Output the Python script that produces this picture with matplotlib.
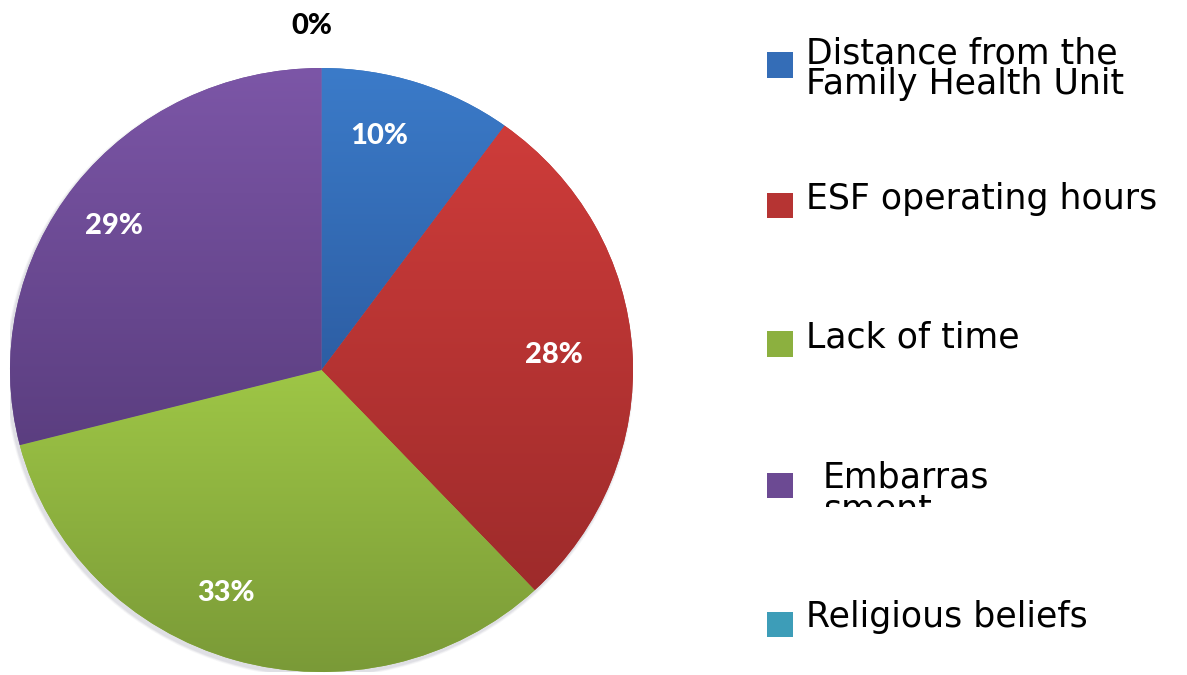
import numpy as np
import matplotlib
matplotlib.use("Agg")
import matplotlib.pyplot as plt
from matplotlib.patches import Rectangle, Ellipse
from matplotlib.colors import to_rgb

# ---------------- data ----------------
categories = ["Distance from the Family Health Unit", "ESF operating hours",
              "Lack of time", "Embarrassment", "Religious beliefs"]
legend_labels = ["Distance from the\nFamily Health Unit", "ESF operating hours",
                 "Lack of time", "Embarras\nsment", "Religious beliefs"]
values = [10, 28, 33, 29, 0]

# gradient colours (top, bottom) per slice
top_colors = ["#3B7BC9", "#CE3C3A", "#9EC646", "#7C56A7", "#4BB0CB"]
bottom_colors = ["#2D5EA4", "#9E2B2B", "#7A9A37", "#5B3E80", "#2E8AA5"]
label_colors = ["white", "white", "white", "white", "black"]

# label positions in pie-normalised coordinates (layout)
label_pos = [(0.186, 0.776), (0.745, 0.050), (-0.307, -0.737),
             (-0.665, 0.478), (-0.030, 1.139)]

W, H = 1187, 675
fig = plt.figure(figsize=(W / 100, H / 100), dpi=100)
fig.patch.set_facecolor("white")

# pie axes: center (321.5, 370) px from top-left, rx 311.5, ry 302
cx, cy, rx, ry = 321.5, 370.0, 311.5, 302.0
ax = fig.add_axes([(cx - rx) / W, (H - cy - ry) / H, 2 * rx / W, 2 * ry / H])

# soft shadow
for i, a in enumerate([0.04, 0.04, 0.05, 0.06]):
    grow = 0.018 - i * 0.004
    ax.add_patch(Ellipse((-0.006, -0.010), 2 + grow, 2 + grow * 1.03,
                         facecolor="#505070", edgecolor="none", alpha=a, zorder=0))

mids = [tuple((np.array(to_rgb(t)) + np.array(to_rgb(b))) / 2)
        for t, b in zip(top_colors, bottom_colors)]
wedges, _t, autotexts = ax.pie(values, colors=mids, startangle=90, counterclock=False,
                               autopct="%1.0f%%", wedgeprops=dict(linewidth=0),
                               textprops=dict(fontfamily="Lato", fontweight="black",
                                              fontsize=21))

for w, v, ct, cb in zip(wedges, values, top_colors, bottom_colors):
    w.set_zorder(1)
    if v == 0:
        continue
    ext = w.get_path().get_extents()
    n = 256
    t = np.linspace(0, 1, n)[:, None]
    grad = (1 - t) * np.array(to_rgb(cb)) + t * np.array(to_rgb(ct))
    grad = grad[:, None, :]
    im = ax.imshow(grad, extent=[ext.x0, ext.x1, ext.y0, ext.y1], origin="lower",
                   interpolation="bilinear", zorder=2, aspect="auto")
    im.set_clip_path(w)

for txt, pos, col in zip(autotexts, label_pos, label_colors):
    txt.set_position(pos)
    txt.set_color(col)
    txt.set_ha("center")
    txt.set_va("center")
    txt.set_zorder(5)
    txt.set_clip_on(False)

ax.set_aspect("auto")
ax.set_xlim(-1, 1)
ax.set_ylim(-1, 1)
ax.axis("off")

# ---------------- legend (manual, figure pixel layout) ----------------
sq_x, sq_w, sq_h = 767, 26, 25
txt_x = [806, 806, 806, 823, 806]
sq_centers = [65, 205.5, 344, 485, 624]
line_gap = 31
clip_bottom = [None, None, None, 507, None]

def fx(px):
    return px / W

def fy(py):
    return 1 - py / H

for i, (lab, c_t, c_b) in enumerate(zip(legend_labels, top_colors, bottom_colors)):
    yc = sq_centers[i]
    fig.patches.append(Rectangle((fx(sq_x), fy(yc + sq_h / 2)), sq_w / W, sq_h / H,
                                 transform=fig.transFigure,
                                 facecolor=mids[i], edgecolor="none"))
    lines = lab.split("\n")
    if len(lines) == 1:
        base0 = yc + 3
    elif clip_bottom[i] is None:
        base0 = yc - 2
    else:
        base0 = yc + 3
    for j, ln in enumerate(lines):
        t = fig.text(fx(txt_x[i]), fy(base0 + j * line_gap), ln,
                     fontfamily="DejaVu Sans", fontsize=25, color="black",
                     ha="left", va="baseline")
        if clip_bottom[i] is not None:
            clip = Rectangle((0, fy(clip_bottom[i])), 1, 1, transform=fig.transFigure)
            t.set_clip_path(clip)
            t.set_clip_on(True)

fig.savefig("out.png", dpi=100, facecolor="white")
